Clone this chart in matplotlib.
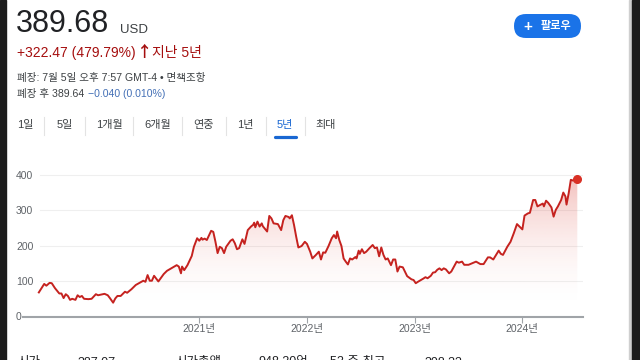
import numpy as np
import matplotlib
matplotlib.use('Agg')
import matplotlib.pyplot as plt
from matplotlib.patches import Polygon, Rectangle, FancyBboxPatch
from matplotlib.colors import to_rgb

plt.rcParams['font.family'] = ['Liberation Sans', 'Noto Sans CJK KR']

# price history (decimal year, USD)
dates = [2019.51, 2019.56, 2019.58, 2019.61, 2019.63, 2019.66, 2019.70, 2019.72, 2019.74, 2019.76,
         2019.78, 2019.80, 2019.82, 2019.85, 2019.87, 2019.89, 2019.91, 2019.93, 2019.97, 2020.00,
         2020.04, 2020.06, 2020.12, 2020.15, 2020.17, 2020.20, 2020.22, 2020.24, 2020.27, 2020.31,
         2020.33, 2020.37, 2020.41, 2020.44, 2020.48, 2020.50, 2020.52, 2020.54, 2020.56, 2020.58,
         2020.62, 2020.67, 2020.70, 2020.74, 2020.79, 2020.81, 2020.83, 2020.84, 2020.86, 2020.89,
         2020.93, 2020.95, 2020.98, 2021.00, 2021.02, 2021.03, 2021.05, 2021.07, 2021.11, 2021.13,
         2021.15, 2021.17, 2021.19, 2021.21, 2021.23, 2021.25, 2021.29, 2021.31, 2021.33, 2021.35,
         2021.37, 2021.40, 2021.42, 2021.45, 2021.48, 2021.50, 2021.51, 2021.52, 2021.54, 2021.56,
         2021.58, 2021.59, 2021.63, 2021.65, 2021.67, 2021.69, 2021.73, 2021.76, 2021.78, 2021.80,
         2021.83, 2021.84, 2021.86, 2021.88, 2021.90, 2021.92, 2021.95, 2021.98, 2022.00, 2022.03,
         2022.05, 2022.08, 2022.11, 2022.13, 2022.15, 2022.17, 2022.20, 2022.23, 2022.25, 2022.27,
         2022.28, 2022.30, 2022.32, 2022.34, 2022.36, 2022.38, 2022.40, 2022.42, 2022.45, 2022.46,
         2022.48, 2022.49, 2022.51, 2022.53, 2022.55, 2022.58, 2022.61, 2022.63, 2022.65, 2022.67,
         2022.69, 2022.71, 2022.73, 2022.75, 2022.78, 2022.80, 2022.82, 2022.84, 2022.86, 2022.89,
         2022.93, 2022.97, 2022.99, 2023.01, 2023.03, 2023.08, 2023.10, 2023.12, 2023.15, 2023.17,
         2023.19, 2023.21, 2023.23, 2023.25, 2023.27, 2023.29, 2023.32, 2023.34, 2023.39, 2023.41,
         2023.44, 2023.46, 2023.50, 2023.53, 2023.57, 2023.61, 2023.64, 2023.68, 2023.70, 2023.73,
         2023.78, 2023.80, 2023.82, 2023.86, 2023.89, 2023.92, 2023.95, 2023.98, 2024.00, 2024.02,
         2024.05, 2024.07, 2024.10, 2024.12, 2024.14, 2024.17, 2024.19, 2024.20, 2024.22, 2024.24,
         2024.27, 2024.29, 2024.31, 2024.33, 2024.36, 2024.38, 2024.40, 2024.41, 2024.43, 2024.45,
         2024.47, 2024.49, 2024.51]
prices = [68, 92, 87, 95, 94, 80, 65, 65, 52, 63,
          58, 47, 50, 47, 60, 55, 58, 50, 49, 50,
          63, 60, 64, 60, 52, 39, 51, 58, 58, 70,
          67, 77, 89, 94, 101, 98, 117, 101, 101, 115,
          99, 120, 129, 136, 145, 141, 122, 141, 131, 145,
          171, 197, 221, 214, 222, 217, 220, 216, 242, 239,
          211, 179, 197, 193, 179, 197, 214, 218, 207, 190,
          193, 218, 205, 244, 254, 259, 265, 252, 268, 254,
          263, 255, 240, 284, 277, 263, 261, 244, 272, 284,
          281, 277, 286, 258, 225, 195, 199, 211, 205, 183,
          164, 173, 183, 161, 181, 180, 199, 221, 230, 221,
          240, 216, 199, 164, 155, 147, 164, 161, 168, 164,
          186, 177, 190, 179, 183, 193, 202, 193, 195, 170,
          195, 174, 161, 164, 145, 161, 161, 127, 141, 139,
          114, 105, 103, 94, 98, 107, 111, 108, 115, 124,
          125, 132, 136, 131, 136, 133, 122, 127, 155, 152,
          155, 146, 146, 150, 155, 148, 148, 167, 167, 161,
          186, 177, 174, 197, 211, 235, 261, 252, 246, 285,
          291, 293, 329, 329, 311, 316, 319, 311, 327, 321,
          308, 282, 301, 311, 329, 350, 339, 316, 348, 386,
          384, 386, 389.68]

y_ticks = [0, 100, 200, 300, 400]
year_ticks = [2021, 2022, 2023, 2024]
year_labels = ['2021년', '2022년', '2023년', '2024년']
tabs = ['1일', '5일', '1개월', '6개월', '연중', '1년', '5년', '최대']
tab_x = [25, 65, 109, 158, 204, 245, 285, 326]
sep_x = [44, 85, 133, 182, 226, 266, 305]

red = '#c5221f'
grey = '#5f6368'

fig = plt.figure(figsize=(6.4, 3.6), dpi=100)
fig.patch.set_facecolor('white')

# page background in pixel coordinates
bg = fig.add_axes([0, 0, 1, 1], zorder=0)
bg.set_xlim(0, 640)
bg.set_ylim(360, 0)
bg.axis('off')

bg.add_patch(Rectangle((0, 0), 6, 360, color='#1c1c1c'))
bg.add_patch(Rectangle((629, 0), 3, 360, color='#cfcfcf'))
bg.add_patch(Rectangle((632, 0), 8, 360, color='#1c1c1c'))

bg.text(16, 32, '389.68', fontsize=22, color='#202124', va='baseline')
bg.text(120, 33, 'USD', fontsize=9.5, color='#3c4043', va='baseline')
bg.text(17, 57, '+322.47 (479.79%)', fontsize=10, color='#a50e0e', va='baseline')
bg.text(137, 57.5, '↑', fontsize=11, color='#a50e0e', va='baseline', fontweight='bold',
        family='Noto Sans CJK KR')
bg.text(152, 57, '지난 5년', fontsize=10, color='#a50e0e', va='baseline')
bg.text(17, 81, '폐장: 7월 5일 오후 7:57 GMT-4 • 면책조항', fontsize=7.6, color='#3c4043', va='baseline')
bg.text(17, 97, '폐장 후 389.64', fontsize=7.6, color='#3c4043', va='baseline')
bg.text(88, 97, '−0.040 (0.010%)', fontsize=7.6, color='#4470b6', va='baseline')

# follow button
bg.add_patch(FancyBboxPatch((514, 14), 67, 24, boxstyle='round,pad=0,rounding_size=12',
                            facecolor='#1a73e8', edgecolor='none'))
bg.text(528, 26.5, '+', fontsize=11, color='white', ha='center', va='center', fontweight='bold')
bg.text(556, 26.5, '팔로우', fontsize=8, color='white', ha='center', va='center', fontweight='bold')

# range tabs
for label, x in zip(tabs, tab_x):
    bg.text(x, 125, label, fontsize=8, ha='center', va='center',
            color='#1967d2' if label == '5년' else '#3c4043')
for x in sep_x:
    bg.plot([x, x], [117, 135], color='#e3e3e3', lw=0.8)
bg.plot([275, 296], [137, 137], color='#1967d2', lw=2.3, solid_capstyle='round')

# stats row (cut off at the bottom, as in the page)
stats = [(17, '시가'), (78, '387.07'), (175, '시가총액'), (258, '948.20억'), (330, '52 주 최고'), (425, '398.33')]
for x, s in stats:
    bg.text(x, 356.5, s, fontsize=9, color='#202124', va='top')

# chart
ax = fig.add_axes([23 / 640, 1 - 316.5 / 360, 560 / 640, (316.5 - 160.7) / 360], zorder=1)
ax.patch.set_alpha(0)
ax.set_xlim(2019.363, 2024.563)
ax.set_ylim(0, 440)
for sp in ax.spines.values():
    sp.set_visible(False)

for v in y_ticks[1:]:
    ax.axhline(v, xmin=0.03, xmax=1, color='#efefef', lw=0.8, zorder=0)
ax.axhline(0, color='#a0a4a8', lw=1.5, zorder=3, clip_on=False)

# gradient fill under the line
verts = [(dates[0], 0)] + list(zip(dates, prices)) + [(dates[-1], 0)]
poly = Polygon(verts, closed=True, facecolor='none', edgecolor='none')
ax.add_patch(poly)
levels = np.linspace(0, 400, 256)
rgba = np.zeros((256, 1, 4))
rgba[..., :3] = to_rgb('#d93025')
rgba[:, 0, 3] = 0.3 * (levels / 390) ** 2
im = ax.imshow(rgba, extent=[dates[0], dates[-1], 0, 400], origin='lower', aspect='auto',
               interpolation='bilinear', zorder=1)
im.set_clip_path(poly)

ax.plot(dates, prices, color=red, lw=1.4, zorder=4)
ax.plot(dates[-1], prices[-1], 'o', color='#d93025', markersize=5.5, zorder=5, clip_on=False)

ax.set_yticks(y_ticks)
ax.tick_params(axis='y', length=0, pad=5, labelsize=7.5, labelcolor=grey)
for lbl in ax.get_yticklabels():
    lbl.set_ha('left')
ax.set_xticks(year_ticks)
ax.set_xticklabels(year_labels)
ax.tick_params(axis='x', length=4, width=0.8, color='#a0a4a8', pad=1.5, labelsize=7.5, labelcolor=grey)

fig.savefig('out.png', dpi=100)
